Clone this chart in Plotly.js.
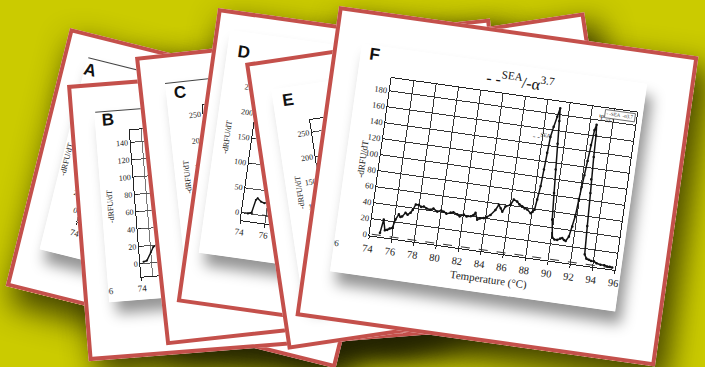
<!DOCTYPE html>
<html><head><meta charset="utf-8">
<script src="https://cdn.plot.ly/plotly-3.0.1.min.js"></script>
<style>
html,body{margin:0;padding:0;width:705px;height:367px;overflow:hidden;background:#cbcb00;}
#stage{position:relative;width:705px;height:367px;overflow:hidden;background:#cbcb00;}
.card{position:absolute;box-sizing:border-box;border:4px solid #c4504b;background:#fff;transform-origin:0 0;}
.shade{position:absolute;box-sizing:border-box;transform-origin:0 0;background:rgba(0,0,0,0);box-shadow:10px 14px 30px 3px rgba(35,35,0,0.78);z-index:0;}
.sheet{position:absolute;background:#fff;overflow:hidden;box-shadow:7px 12px 14px rgba(0,0,0,0.42);}
.letter{position:absolute;font-family:"Liberation Sans",Arial,sans-serif;font-weight:bold;font-size:17px;color:#111;transform:translate(-50%,-50%);line-height:1;}
.rule{position:absolute;height:0;border-top:1px solid #444;}
</style></head>
<body><div id="stage"></div>
<script>
// ---- data ----
const fTemp = [74.9,75.07,75.3,75.5,75.7,75.92,76.1,76.33,76.5,76.65,76.9,77.1,77.34,77.5,77.7,77.97,78.2,78.43,78.7,79.05,79.3,79.67,80.0,80.25,80.5,80.86,81.1,81.46,81.7,82.04,82.3,82.66,82.9,83.05,83.28,83.5,83.84,84.1,84.39,84.76,85.0,85.2,85.38,85.6,86.02,86.25,86.57,86.8,87.08,87.3,87.55,87.89,88.05,88.19,88.3,88.44,88.52,88.6,88.69,88.85,89.04,89.2,89.28,89.4,89.55,89.7,89.87,90.1,90.3,90.56,90.8,90.98,91.15,91.31,91.54,91.72,91.85,91.96,92.05,92.15,92.25,92.35,92.48,92.6,92.68,92.74,92.8,92.9,93.03,93.15,93.35,93.58,93.8,94.04,94.3,94.67,95.0,95.28,95.5,95.73];
const fSignal = [4,21,8,9,11,12,23,30,27,28,33,31,34,38,45,45,43,44,42,41,43,40,42,41,39,41,42,40,38,41,39,40,42,45,37,39,40,42,45,52,59,55,51,58,61,68,66,63,61,59,58,54,56,59,72,89,110,131,151,164,177,188,172,144,112,83,50,28,26,26,28,29,27,26,32,45,58,79,95,110,128,148,167,174,161,134,106,89,48,13,8,7,6,6,4,3,3,2,2,1.5];
const fBaseTemp = [74.2, 96];
const fBaseSignal = [1, 1];
const bTemp = [74.3, 74.6, 75.0, 75.25, 75.5, 76.0];
const bSignal = [2, 3, 12, 18, 20, 22];
const dTemp = [74.5, 74.8, 75.0, 75.13, 75.44, 75.73, 76.1];
const dSignal = [0, 3, 29, 33, 27, 25, 30];
const dBaseTemp = [74.2, 87];
const dBaseSignal = [1, 1];
const tempTicks = [74,76,78,80,82,84,86,88,90,92,94,96];
const fYTicks = [0,20,40,60,80,100,120,140,160,180];
const bYTicks = [0,20,40,60,80,100,120,140];
const wideYTicks = [0,50,100,150,200,250];
const panelLetters = ['A','B','C','D','E','F'];
const yTitleText = '-dRFU/dT';
const xTitleText = 'Temperature (\u00B0C)';
const fTitleText = '- -<sup>SEA</sup>/-\u03B1<sup>3.7</sup>';
const seaLabel = '- -<sup>SEA</sup>';
const alphaLabel = '\u03A8<sub>-\u03B13.7</sub>';
const legendText = '- -SEA  -\u03B13.7';

// ---- layout of the card stack (positions only) ----
const SERIF = 'Liberation Serif, Times New Roman, serif';
const cards = [
  {x:70, y:28.3, rot:14, w:340, h:266, letter:[29.6,36], rule:[24.5,24,320],
   sheet:[24,24,300,198], plot:[54,45,310,186], xr:[74,96], yr:[-12,150], yt:bYTicks, ytitle:[28,129], minor:true},
  {x:67, y:85, rot:-4.5, w:350, h:277, letter:[38,38], rule:[26,29,320],
   sheet:[25,29,300,191], plot:[59,50,310,197], xr:[74,96], yr:[-15,154], yt:bYTicks, ytitle:[33.3,125], minor:true,
   series:[{x:bTemp,y:bSignal}], stub:true},
  {x:135, y:57, rot:-6.2, w:357, h:290, letter:[41,40], rule:[27,29,320],
   sheet:[27,29,300,200], plot:[62,55,310,200], xr:[74,96], yr:[-11.5,267], yt:wideYTicks, ytitle:[38.7,125]},
  {x:218, y:8, rot:8, w:228, h:297, letter:[31.8,40],
   sheet:[15,20,205,225], plot:[52,62,212,207], xr:[74,87.1], yr:[-15.2,274], yt:wideYTicks, ytitle:[26.9,126.4],
   series:[{x:dTemp,y:dSignal}], base:{x:dBaseTemp,y:dBaseSignal}},
  {x:245, y:63.3, rot:-8.5, w:343, h:290, letter:[37,43],
   sheet:[22,30,300,215], plot:[56,66,310,208], xr:[74,96], yr:[-14.7,275], yt:wideYTicks, ytitle:[35.2,136.7]},
  {x:338.5, y:5.7, rot:8, w:363, h:313, letter:[42,43], main:true,
   sheet:[28,34,288,230], plot:[62,64,310,223], xr:[74,96], yr:[-1,196], yt:fYTicks, ytitle:[44.4,147.5],
   series:[{x:fTemp,y:fSignal}], base:{x:fBaseTemp,y:fBaseSignal}, stub:true}
];

const stage = document.getElementById('stage');
const BW = 4;

// shadows of the whole stack fall on the background only
cards.forEach(c => {
  const s = document.createElement('div');
  s.className = 'shade';
  Object.assign(s.style, {left:c.x+'px', top:c.y+'px', width:c.w+'px', height:c.h+'px',
    transform:'rotate('+c.rot+'deg)'});
  stage.appendChild(s);
});

cards.forEach((c, i) => {
  const card = document.createElement('div');
  card.className = 'card';
  Object.assign(card.style, {left:c.x+'px', top:c.y+'px', width:c.w+'px', height:c.h+'px',
    transform:'rotate('+c.rot+'deg)', zIndex:String(i+1)});
  stage.appendChild(card);

  const [sl, st, sw, sh] = c.sheet;
  const [pl, pt, pr, pb] = c.plot;
  const sheet = document.createElement('div');
  sheet.className = 'sheet';
  Object.assign(sheet.style, {left:(sl-BW)+'px', top:(st-BW)+'px', width:sw+'px', height:sh+'px'});
  card.appendChild(sheet);

  if (c.rule) {
    const r = document.createElement('div');
    r.className = 'rule';
    Object.assign(r.style, {left:(c.rule[0]-BW)+'px', top:(c.rule[1]-BW)+'px', width:(c.rule[2]-c.rule[0])+'px'});
    card.appendChild(r);
  }
  const lt = document.createElement('div');
  lt.className = 'letter';
  lt.textContent = panelLetters[i];
  Object.assign(lt.style, {left:(c.letter[0]-BW)+'px', top:(c.letter[1]-BW)+'px'});
  card.appendChild(lt);

  const main = !!c.main;
  const traces = [];
  if (c.base) traces.push({x:c.base.x, y:c.base.y, type:'scatter', mode:'lines',
      line:{color:'#333', width:1, dash:'dash'}, hoverinfo:'skip'});
  (c.series||[]).forEach(s => traces.push({x:s.x, y:s.y, type:'scatter', mode:'lines+markers',
      line:{color:'#111', width:main?1.5:1.4}, marker:{color:'#111', size:main?2.6:2}}));

  const pw = pr - pl, ph = pb - pt;
  const annotations = [];
  annotations.push({text:yTitleText, xref:'paper', yref:'paper',
    x:(c.ytitle[0]-pl)/pw, y:(pb-c.ytitle[1])/ph, showarrow:false, textangle:-90,
    xanchor:'center', yanchor:'middle', font:{family:SERIF, size:main?9:8, color:'#222'}});
  if (c.stub) annotations.push({text:'96', xref:'paper', yref:'paper',
    x:(sl+1-pl)/pw, y:(pb-(main?235:209))/ph, showarrow:false, xanchor:'center', yanchor:'middle',
    font:{family:SERIF, size:9, color:'#333'}});
  if (main) {
    annotations.push({text:seaLabel, x:87.9, y:150, showarrow:false, xanchor:'center', yanchor:'middle',
      font:{family:SERIF, size:8, color:'#222'}});
    annotations.push({text:alphaLabel, x:93.4, y:183, showarrow:false, xanchor:'center', yanchor:'middle',
      font:{family:SERIF, size:7, color:'#222'}});
    annotations.push({text:legendText, xref:'paper', yref:'paper', x:0.995, y:0.995, xanchor:'right', yanchor:'top',
      showarrow:false, bordercolor:'#555', borderwidth:0.8, borderpad:1, bgcolor:'#fff',
      font:{family:SERIF, size:5, color:'#333'}});
  }

  const axisCommon = {showline:true, mirror:true, linecolor:'#222', linewidth:1,
    showgrid:true, gridcolor: main ? '#353535' : '#555', gridwidth:1, zeroline:false};
  const layout = {
    width:sw, height:sh,
    margin:{l:pl-sl, t:pt-st, r:sl+sw-pr, b:st+sh-pb, pad:0},
    paper_bgcolor:'#ffffff', plot_bgcolor:'#ffffff', showlegend:false,
    xaxis:Object.assign({}, axisCommon, {range:c.xr, tickvals:tempTicks, ticks:'outside', ticklen:3, tickcolor:'#222',
      tickfont:{family:SERIF, size:main?10.5:9, color:'#222'},
      title: main ? {text:xTitleText, font:{family:SERIF, size:11, color:'#222'}, standoff:5} : {text:''}}),
    yaxis:Object.assign({}, axisCommon, {range:c.yr, tickvals:c.yt, ticks:'inside', ticklen:3, tickcolor:'#222',
      tickfont:{family:SERIF, size:main?8.5:8, color:'#222'}}),
    annotations:annotations
  };
  if (c.minor) layout.xaxis.minor = {dtick:1, showgrid:true, gridcolor:'#777', gridwidth:1};
  if (main) layout.title = {text:fTitleText, font:{family:SERIF, size:16, color:'#111'},
      x:(190-sl)/sw, xanchor:'center', xref:'container', y:1-(50-st)/sh, yanchor:'middle', yref:'container'};

  Plotly.newPlot(sheet, traces, layout, {staticPlot:true, displayModeBar:false});
});
</script></body></html>
